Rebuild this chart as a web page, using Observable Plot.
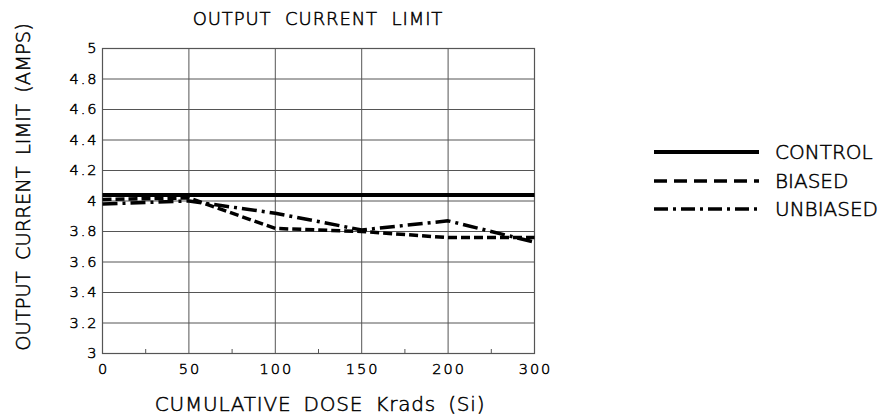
<!DOCTYPE html>
<html>
<head>
<meta charset="utf-8">
<script src="https://cdn.jsdelivr.net/npm/d3@7"></script>
<script src="https://cdn.jsdelivr.net/npm/@observablehq/plot@0.6"></script>
<style>
  html, body { margin: 0; padding: 0; background: #fff; }
  #wrap { position: relative; width: 892px; height: 417px; font-family: "DejaVu Sans", sans-serif; font-weight: 300; color: #000; -webkit-text-stroke: 0.5px #000; }
  #title { position: absolute; left: 0; width: 636px; top: 8px; text-align: center; font-size: 18px; word-spacing: 7px; letter-spacing: 0.9px; white-space: nowrap; }
  #ylabel { position: absolute; left: 23px; top: 187px; transform: translate(-50%, -50%) rotate(-90deg); font-size: 19.5px; word-spacing: 5px; white-space: nowrap; }
  #xlabel { position: absolute; left: 0; width: 640px; top: 392px; text-align: center; font-size: 20px; word-spacing: 5px; letter-spacing: 0.8px; white-space: nowrap; }
  #legend { position: absolute; left: 654px; top: 138px; }
  .lg { display: flex; align-items: center; height: 28.5px; font-size: 20px; white-space: nowrap; }
  .lg svg { margin-right: 16px; }
  #wrap svg text { font-size: 14.5px !important; font-weight: 300; letter-spacing: 2px; stroke: #000; stroke-width: 0.5px; }
</style>
</head>
<body>
<div id="wrap">
  <div id="title">OUTPUT CURRENT LIMIT</div>
  <div id="ylabel">OUTPUT CURRENT LIMIT (AMPS)</div>
  <div id="xlabel">CUMULATIVE DOSE Krads (Si)</div>
  <div id="legend"></div>
</div>
<script>
const doses = ["0", "50", "100", "150", "200", "300"];
const control = [4.04, 4.04, 4.04, 4.04, 4.04, 4.04];
const biased = [4.01, 4.02, 3.82, 3.80, 3.76, 3.76];
const unbiased = [3.98, 4.00, 3.92, 3.81, 3.87, 3.73];
const yTicks = [3, 3.2, 3.4, 3.6, 3.8, 4, 4.2, 4.4, 4.6, 4.8, 5];
const yTickLabels = ["3", "3.2", "3.4", "3.6", "3.8", "4", "4.2", "4.4", "4.6", "4.8", "5"];
const seriesNames = ["CONTROL", "BIASED", "UNBIASED"];

const styles = {
  CONTROL: {strokeWidth: 4, dash: null, legendDash: null},
  BIASED: {strokeWidth: 3.5, dash: "9,4", legendDash: "13,7"},
  UNBIASED: {strokeWidth: 3.5, dash: "15,5,3,5", legendDash: "14,5,3,5"}
};
const values = {CONTROL: control, BIASED: biased, UNBIASED: unbiased};

const data = seriesNames.flatMap(s => values[s].map((v, i) => ({series: s, i, v})));
const xIdx = doses.map((d, i) => i);
const minor = doses.slice(1).map((d, i) => i + 0.5);

const plot = Plot.plot({
  width: 892,
  height: 417,
  marginLeft: 102,
  marginRight: 358,
  marginTop: 48,
  marginBottom: 64,
  style: {fontFamily: "DejaVu Sans, sans-serif", fontSize: "14.5px", color: "#000", background: "transparent"},
  x: {type: "linear", domain: [0, doses.length - 1]},
  y: {domain: [3, 5]},
  marks: [
    Plot.gridX(xIdx, {stroke: "#555", strokeOpacity: 1, strokeWidth: 1}),
    Plot.gridY(yTicks, {stroke: "#555", strokeOpacity: 1, strokeWidth: 1}),
    Plot.frame({stroke: "#555", strokeWidth: 1.2}),
    Plot.axisX({ticks: xIdx, tickFormat: i => doses[i], tickSize: 0, tickPadding: 10, fontSize: 14.5, dx: 1, label: null}),
    Plot.axisX({ticks: minor, tickSize: -4, text: null, label: null, stroke: "#555"}),
    Plot.axisY({ticks: yTicks, tickFormat: v => yTickLabels[yTicks.indexOf(v)], tickSize: 0, tickPadding: 4, fontSize: 14.5, label: null}),
    ...seriesNames.map(s => Plot.line(data.filter(d => d.series === s), {
      x: "i", y: "v", stroke: "#000", strokeWidth: styles[s].strokeWidth,
      strokeDasharray: styles[s].dash, strokeLinejoin: "miter", strokeLinecap: "butt"
    }))
  ]
});
plot.style.position = "absolute";
plot.style.left = "0";
plot.style.top = "0";
document.getElementById("wrap").prepend(plot);

const legend = d3.select("#legend");
seriesNames.forEach(s => {
  const row = legend.append("div").attr("class", "lg");
  const svg = row.append("svg").attr("width", 105).attr("height", 10);
  svg.append("line").attr("x1", 0).attr("x2", 105).attr("y1", 5).attr("y2", 5)
    .attr("stroke", "#000").attr("stroke-width", styles[s].strokeWidth)
    .attr("stroke-dasharray", styles[s].legendDash);
  row.append("span").text(s);
});
</script>
</body>
</html>
